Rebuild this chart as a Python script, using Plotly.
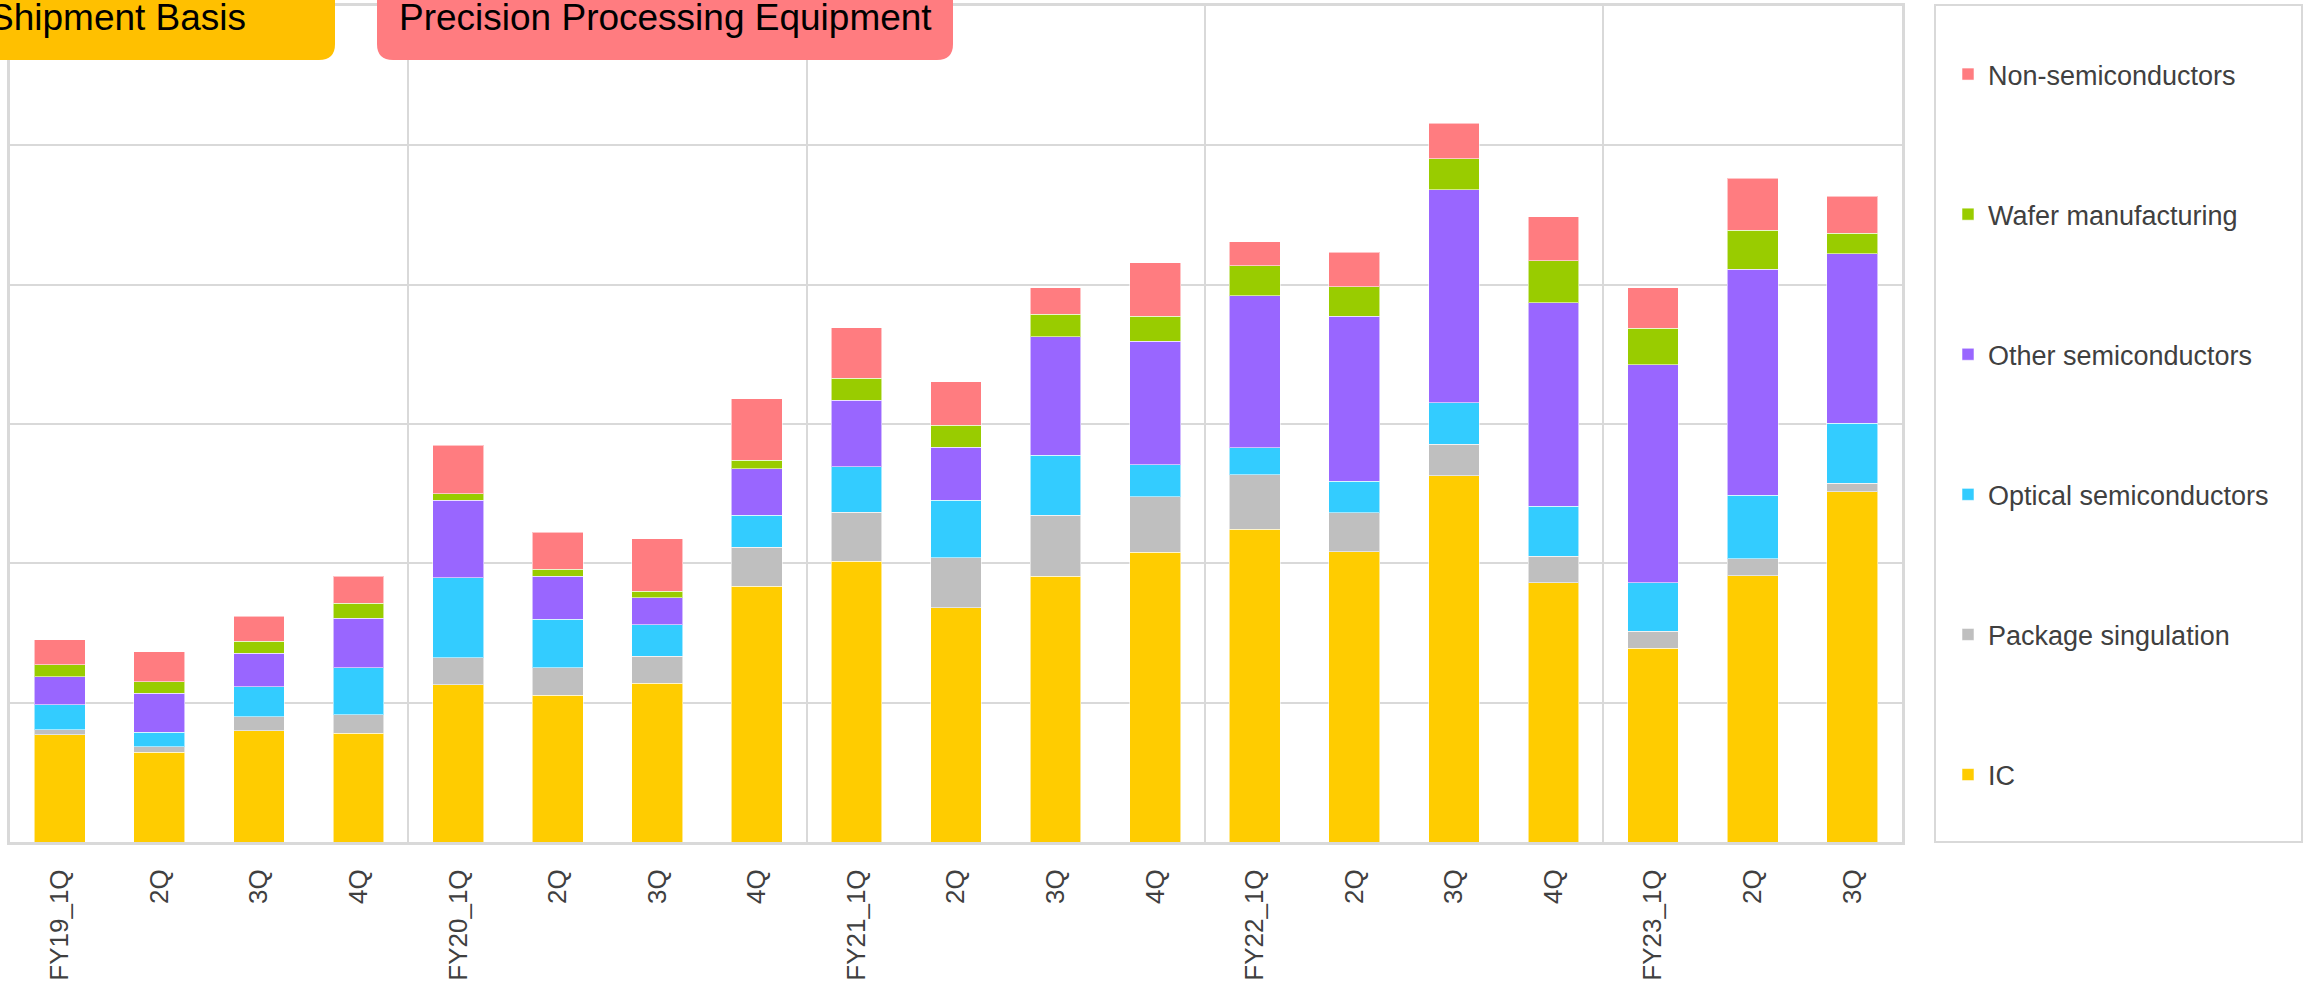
import plotly.graph_objects as go

# ---------------- data ----------------
categories = ["FY19_1Q", "2Q", "3Q", "4Q",
              "FY20_1Q", "2Q", "3Q", "4Q",
              "FY21_1Q", "2Q", "3Q", "4Q",
              "FY22_1Q", "2Q", "3Q", "4Q",
              "FY23_1Q", "2Q", "3Q"]

ic = [76.8, 64.4, 79.9, 78.0, 112.9, 105.5, 114.1, 183.5, 201.5, 168.0,
      190.8, 208.1, 224.3, 208.2, 262.7, 186.0, 139.1, 191.0, 251.3]
package_singulation = [3.6, 4.0, 10.1, 13.4, 19.4, 19.6, 19.2, 28.2, 35.2, 36.0,
                       43.7, 39.8, 39.4, 28.1, 22.8, 19.0, 12.2, 12.2, 6.1]
optical_semis = [18.2, 10.5, 21.5, 33.5, 57.4, 34.7, 22.7, 22.7, 32.6, 41.2,
                 43.1, 22.8, 19.3, 22.5, 29.9, 35.9, 34.9, 45.5, 43.3]
other_semis = [20.1, 27.8, 24.1, 35.6, 55.5, 31.1, 19.4, 33.5, 47.8, 38.1,
               85.1, 88.7, 109.1, 118.5, 152.6, 146.2, 156.4, 162.2, 121.5]
wafer_mfg = [8.4, 8.4, 8.4, 11.0, 4.8, 5.0, 4.7, 6.0, 15.6, 15.9,
             15.9, 18.1, 21.4, 21.1, 22.5, 29.9, 26.3, 28.2, 14.8]
non_semis = [18.2, 21.5, 18.2, 19.2, 34.9, 26.3, 37.4, 44.1, 36.3, 31.3,
             19.2, 38.4, 17.2, 24.9, 25.3, 31.7, 28.9, 37.2, 26.6]

series_names = ["IC", "Package singulation", "Optical semiconductors",
                "Other semiconductors", "Wafer manufacturing", "Non-semiconductors"]
series_values = [ic, package_singulation, optical_semis, other_semis, wafer_mfg, non_semis]
series_colors = ["#FFCC00", "#BFBFBF", "#33CCFF", "#9966FF", "#99CC00", "#FF7C80"]

year_separators = [3.5, 7.5, 11.5, 15.5]

# ---------------- geometry (px) ----------------
W, H = 2307, 981
ML, MR, MT, MB = 10, 405, 6, 139
PW = W - ML - MR
PH = H - MT - MB


def px_x(px):
    return (px - ML) / PW


def px_y(py):
    return (H - MB - py) / PH


FONT = "Liberation Sans, Arial, sans-serif"
GRID = "#D9D9D9"
TXT = "#404040"

positions = list(range(len(categories)))

fig = go.Figure()
n = len(series_names)
for i, (name, vals, col) in enumerate(zip(series_names, series_values, series_colors)):
    fig.add_trace(go.Bar(
        x=positions, y=vals, name=name, legendgroup=name, legendrank=n - i,
        marker=dict(color=col, line=dict(color="rgba(255,255,255,0.55)", width=1)),
        width=0.51,
    ))

shapes = []


def rounded_box(x0, x1, y0, y1, r):
    # x in px, y in px (y0 top, y1 bottom); only bottom corners rounded
    X0, X1 = px_x(x0), px_x(x1)
    Yt, Yb = px_y(y0), px_y(y1)
    rx, ry = r / PW, r / PH
    return (f"M{X0},{Yt} L{X1},{Yt} L{X1},{Yb + ry} Q{X1},{Yb} {X1 - rx},{Yb} "
            f"L{X0 + rx},{Yb} Q{X0},{Yb} {X0},{Yb + ry} Z")


shapes.append(dict(type="path", xref="paper", yref="paper",
                   path=rounded_box(-60, 335, -60, 60, 16),
                   fillcolor="#FFC000", line=dict(width=0), layer="above"))
shapes.append(dict(type="path", xref="paper", yref="paper",
                   path=rounded_box(377, 953, -60, 60, 16),
                   fillcolor="#FF7C80", line=dict(width=0), layer="above"))
# legend frame
shapes.append(dict(type="rect", xref="paper", yref="paper",
                   x0=px_x(1935), x1=px_x(2302), y0=px_y(842), y1=px_y(5),
                   line=dict(color=GRID, width=2), fillcolor="rgba(0,0,0,0)"))

annotations = [
    dict(text="Shipment Basis", xref="paper", yref="paper",
         x=px_x(248), y=px_y(17), xanchor="right", yanchor="middle",
         showarrow=False, font=dict(family=FONT, size=37, color="#000000")),
    dict(text="Precision Processing Equipment", xref="paper", yref="paper",
         x=px_x(665), y=px_y(17), xanchor="center", yanchor="middle",
         showarrow=False, font=dict(family=FONT, size=37, color="#000000")),
]

fig.update_layout(
    width=W, height=H,
    margin=dict(l=ML, r=MR, t=MT, b=MB, pad=0, autoexpand=False),
    paper_bgcolor="white", plot_bgcolor="white",
    barmode="stack",
    font=dict(family=FONT, color=TXT),
    shapes=shapes, annotations=annotations,
    legend=dict(
        x=px_x(1948), xanchor="left",
        y=px_y(50), yanchor="top",
        traceorder="grouped", tracegroupgap=102,
        bgcolor="rgba(0,0,0,0)", borderwidth=0,
        font=dict(family=FONT, size=27, color=TXT),
    ),
    xaxis=dict(
        range=[-0.5, len(categories) - 0.5], automargin=False,
        tickmode="array", tickvals=positions, ticktext=categories,
        tickangle=-90, ticks="", ticklabelstandoff=14,
        tickfont=dict(family=FONT, size=26, color=TXT),
        showgrid=False, zeroline=False,
        showline=True, mirror=True, linecolor=GRID, linewidth=3,
        minor=dict(tickmode="array", tickvals=year_separators, showgrid=True,
                   gridcolor=GRID, gridwidth=1.5, ticks=""),
    ),
    yaxis=dict(
        range=[0, 600], dtick=100, showticklabels=False, ticks="",
        automargin=False,
        showgrid=True, gridcolor=GRID, gridwidth=1.5, zeroline=False,
        showline=True, mirror=True, linecolor=GRID, linewidth=2.5,
    ),
)

fig.write_html("out.html", config={"displayModeBar": False},
               post_script="document.body.style.margin='0';")
